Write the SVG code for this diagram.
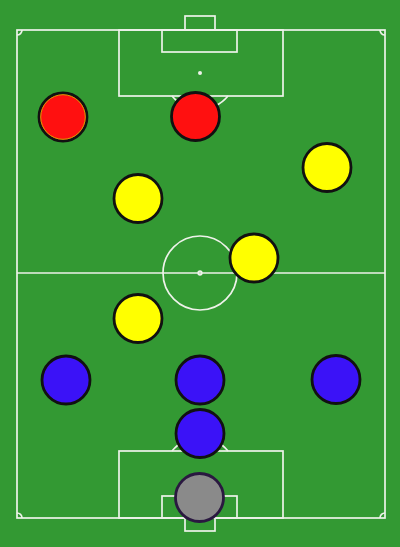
<svg xmlns="http://www.w3.org/2000/svg" width="400" height="547" viewBox="0 0 400 547">
<style>
.line{fill:none;stroke:#eef2ea;stroke-width:1.7}
.dot{fill:#eef2ea}
.p{stroke:#111;stroke-width:2.8}
.red{fill:#ff1010}
.yellow{fill:#ffff00}
.blue{fill:#3b12f7}
.gk{fill:#8a8a8a;stroke:#2a1840}
</style>
<rect x="0" y="0" width="400" height="547" fill="#339933"/>
<g id="pitch">
<rect class="line" x="17" y="30" width="368" height="488"/>
<line class="line" x1="17" y1="273" x2="385" y2="273"/>
<circle class="line" cx="200" cy="273" r="37"/>
<circle class="line" cx="200" cy="273" r="1.8"/>
<rect class="line" x="119" y="30" width="164" height="66"/>
<rect class="line" x="162" y="30" width="75" height="22"/>
<rect class="line" x="185" y="16" width="30" height="14"/>
<circle class="dot" cx="200" cy="73" r="2"/>
<path class="line" d="M172,96 A36.5,36.5 0 0 0 228,96"/>
<rect class="line" x="119" y="451" width="164" height="67"/>
<rect class="line" x="162" y="496" width="75" height="22"/>
<rect class="line" x="185" y="518" width="30" height="13"/>
<path class="line" d="M172,451 A36.5,36.5 0 0 1 228,451"/>
<path class="line" d="M17,35 A5,5 0 0 0 22,30"/>
<path class="line" d="M380,30 A5,5 0 0 0 385,35"/>
<path class="line" d="M17,513 A5,5 0 0 1 22,518"/>
<path class="line" d="M380,518 A5,5 0 0 1 385,513"/>
</g>
<g id="players">
<g id="red1"><circle class="p red" cx="63" cy="117" r="24"/><circle cx="63" cy="117" r="22.3" fill="none" stroke="#d8a000" stroke-width="1"/></g>
<g id="red2"><circle class="p red" cx="195.5" cy="116.5" r="24"/></g>
<g id="yellow1"><circle class="p yellow" cx="327" cy="167.5" r="24"/></g>
<g id="yellow2"><circle class="p yellow" cx="138" cy="198.5" r="24"/></g>
<g id="yellow3"><circle class="p yellow" cx="254" cy="258" r="24"/></g>
<g id="yellow4"><circle class="p yellow" cx="138" cy="318.5" r="24"/></g>
<g id="blue1"><circle class="p blue" cx="66" cy="380" r="24"/></g>
<g id="blue2"><circle class="p blue" cx="200" cy="380" r="24"/></g>
<g id="blue3"><circle class="p blue" cx="336" cy="379.5" r="24"/></g>
<g id="blue4"><circle class="p blue" cx="200" cy="433.5" r="24"/></g>
<g id="goalkeeper"><circle class="p gk" cx="199.5" cy="497.5" r="24"/></g>
</g>
</svg>
